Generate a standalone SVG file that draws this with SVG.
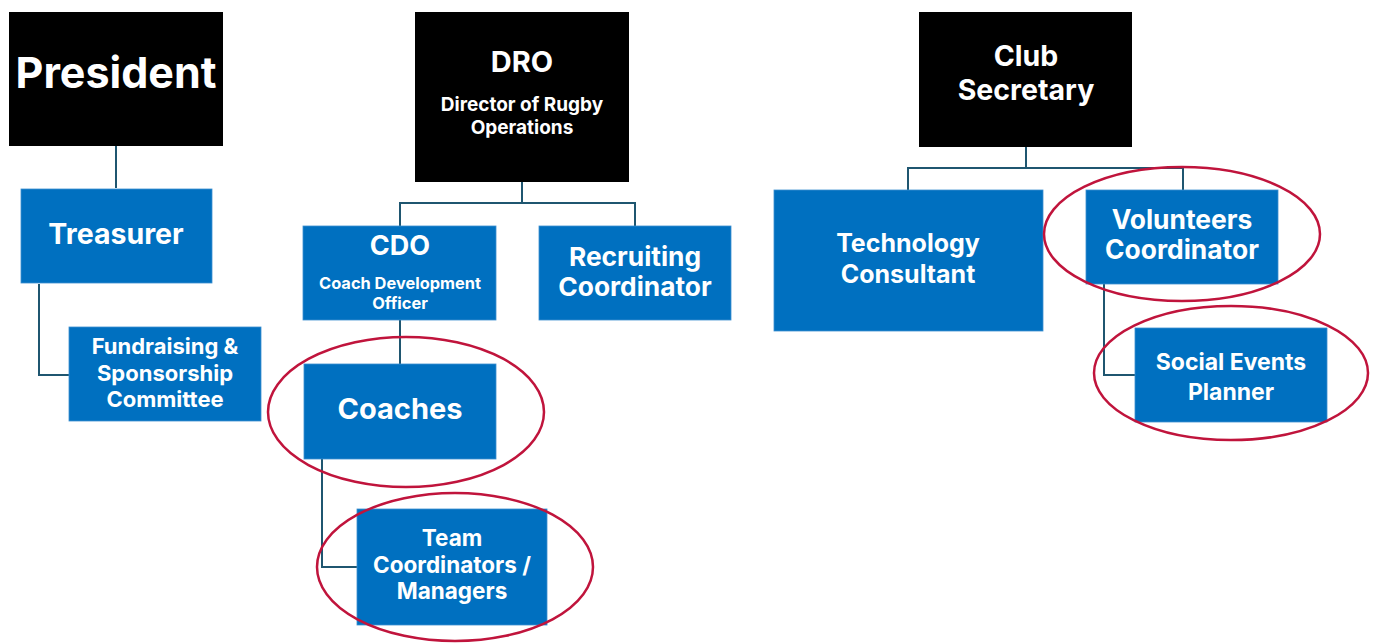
<svg xmlns="http://www.w3.org/2000/svg" width="1375" height="644" viewBox="0 0 1375 644">
<style>
.blk{fill:#000}
.blu{fill:#0070C0;stroke:#3C8FD0;stroke-width:0.8}
.t{font-family:Inter,"Liberation Sans",sans-serif;font-weight:700;fill:#fff;text-anchor:middle}
.c{fill:none;stroke:#1F5670;stroke-width:2}
.e{fill:none;stroke:#C0143C;stroke-width:2.5}
</style>
<rect width="1375" height="644" fill="#fff"/>
<g id="connectors">
<path class="c" d="M116,146V188"/>
<path class="c" d="M39,284V375H69"/>
<path class="c" d="M522,182V203H400V226M522,203H635V226"/>
<path class="c" d="M400,320V364"/>
<path class="c" d="M322,459V567H357"/>
<path class="c" d="M1026,147V168H908V190M1026,168H1183V190"/>
<path class="c" d="M1104,284V375H1135"/>
</g>
<g id="president"><rect class="blk" x="9" y="12" width="214" height="134"/><text class="t" x="116" y="88" font-size="43">President</text></g>
<g id="treasurer"><rect class="blu" x="21" y="189" width="191" height="94"/><text class="t" x="116" y="244" font-size="28.5">Treasurer</text></g>
<g id="fundraising"><rect class="blu" x="69" y="327" width="192" height="94"/><text class="t" x="165" y="354" font-size="22">Fundraising &amp;</text><text class="t" x="165" y="381" font-size="22">Sponsorship</text><text class="t" x="165" y="407" font-size="22">Committee</text></g>
<g id="dro"><rect class="blk" x="415" y="12" width="214" height="170"/><text class="t" x="522" y="72" font-size="29">DRO</text><text class="t" x="522" y="111" font-size="19">Director of Rugby</text><text class="t" x="522" y="134" font-size="19">Operations</text></g>
<g id="cdo"><rect class="blu" x="303" y="226" width="193" height="94"/><text class="t" x="400" y="255" font-size="27">CDO</text><text class="t" x="400" y="289" font-size="16.4">Coach Development</text><text class="t" x="400" y="309" font-size="16.4">Officer</text></g>
<g id="recruiting"><rect class="blu" x="539" y="226" width="192" height="94"/><text class="t" x="635" y="266" font-size="26.3">Recruiting</text><text class="t" x="635" y="296" font-size="26.3">Coordinator</text></g>
<g id="coaches"><rect class="blu" x="304" y="364" width="192" height="95"/><text class="t" x="400" y="419" font-size="29">Coaches</text></g>
<g id="team"><rect class="blu" x="357" y="509" width="190" height="116"/><text class="t" x="452" y="546" font-size="22.5">Team</text><text class="t" x="452" y="573" font-size="22.5">Coordinators /</text><text class="t" x="452" y="599" font-size="22.5">Managers</text></g>
<g id="secretary"><rect class="blk" x="919" y="12" width="213" height="135"/><text class="t" x="1026" y="66" font-size="28.5">Club</text><text class="t" x="1026" y="100" font-size="28.5">Secretary</text></g>
<g id="technology"><rect class="blu" x="774" y="190" width="269" height="141"/><text class="t" x="908" y="252" font-size="25">Technology</text><text class="t" x="908" y="283" font-size="25">Consultant</text></g>
<g id="volunteers"><rect class="blu" x="1086" y="190" width="192" height="94"/><text class="t" x="1182" y="229" font-size="26.4">Volunteers</text><text class="t" x="1182" y="259" font-size="26.4">Coordinator</text></g>
<g id="social"><rect class="blu" x="1135" y="328" width="192" height="94"/><text class="t" x="1231" y="370" font-size="23">Social Events</text><text class="t" x="1231" y="400" font-size="23">Planner</text></g>
<g id="highlights">
<ellipse class="e" cx="406" cy="412" rx="138" ry="75"/>
<ellipse class="e" cx="455" cy="567" rx="138" ry="74"/>
<ellipse class="e" cx="1182" cy="234" rx="138" ry="67"/>
<ellipse class="e" cx="1231" cy="373" rx="137" ry="67"/>
</g>
</svg>
